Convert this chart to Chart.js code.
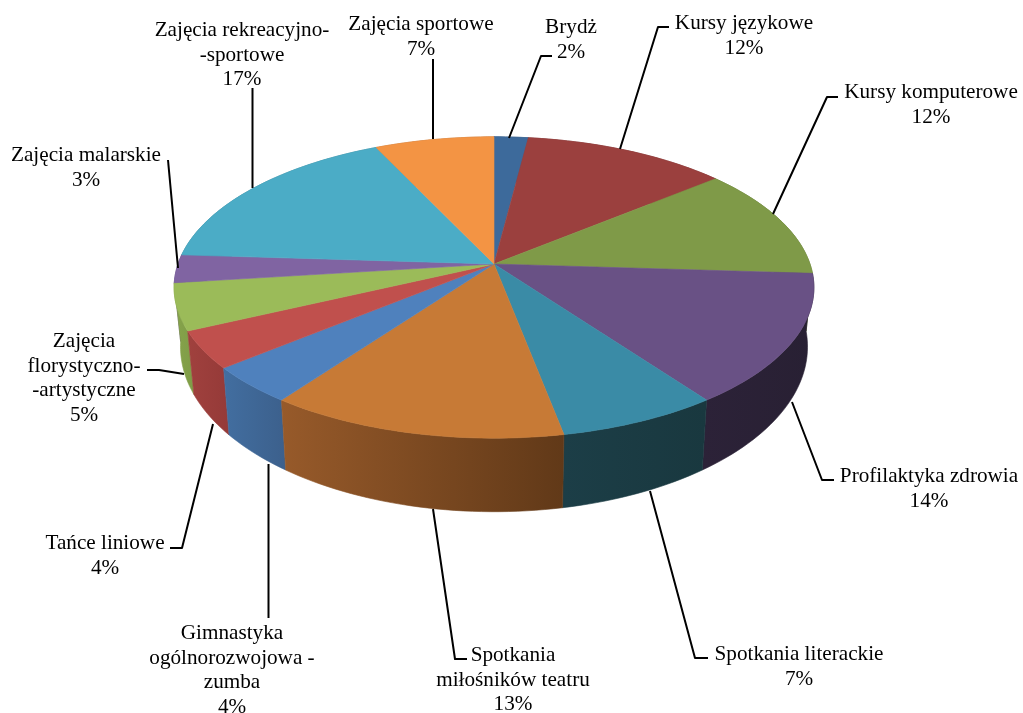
<!DOCTYPE html>
<html lang="pl">
<head>
<meta charset="utf-8">
<title>Zajęcia</title>
<style>
    html, body { margin: 0; padding: 0; background: #fff; }
    canvas { display: block; }
</style>
<script src="https://cdn.jsdelivr.net/npm/chart.js@4/dist/chart.umd.min.js"></script>
</head>
<body>
<canvas id="pieChart" width="1023" height="713"></canvas>
<script>
// one entry per slice, clockwise from twelve o'clock
const categories = [
    ["Brydż"],
    ["Kursy językowe"],
    ["Kursy komputerowe"],
    ["Profilaktyka zdrowia"],
    ["Spotkania literackie"],
    ["Spotkania", "miłośników teatru"],
    ["Gimnastyka", "ogólnorozwojowa -", "zumba"],
    ["Tańce liniowe"],
    ["Zajęcia", "florystyczno-", "-artystyczne"],
    ["Zajęcia malarskie"],
    ["Zajęcia rekreacyjno-", "-sportowe"],
    ["Zajęcia sportowe"]
];
const shares = [2, 12, 12, 14, 7, 13, 4, 4, 5, 3, 17, 7];

const topColors = ["#3d6a9b", "#9b403e", "#7f9a48", "#695185", "#3a8ba6", "#c77a36",
    "#4f81bd", "#c0504d", "#9bbb59", "#8064a2", "#4bacc6", "#f39444"];
// wall colours run left to right across each slice
const wallColors = [
    ["#2f5075", "#2f5075"], ["#753030", "#753030"], ["#607536", "#607536"], ["#2c2238", "#282033"],
    ["#1c3e47", "#19383f"], ["#975a2a", "#613918"], ["#426ea0", "#3c608c"], ["#a0413e", "#953a38"],
    ["#86a44b", "#7f9c47"], ["#61497c", "#61497c"], ["#387f92", "#387f92"], ["#b66f33", "#b66f33"]
];

// label centre x and first baseline y
const labelAnchors = [
    [571, 33], [744, 29], [931, 98], [929, 482], [799, 660], [513, 661],
    [232, 639], [105, 549], [84, 347], [86, 161], [242, 36], [421, 30]
];
const leaderLines = [
    [[509, 138], [541, 56], [552, 56]],
    [[620, 149], [658, 27], [669, 27]],
    [[773, 214], [827, 97], [838, 97]],
    [[792, 402], [822, 480], [834, 480]],
    [[650, 491], [695, 658], [708, 658]],
    [[433, 509], [455, 659], [467, 659]],
    [[268.5, 464], [268.5, 618]],
    [[213, 424], [182, 548], [170, 548]],
    [[184, 374], [159, 370], [147, 370]],
    [[178, 268], [168, 160]],
    [[252.5, 188], [252.5, 88]],
    [[433, 139], [433, 59]]
];

// perspective of the tilted disc
const centerX = 494;
const centerY = 264;
const radiusX = 316;
const radiusY = 147;
const tilt = 0.156;
const LINE_HEIGHT = 24.5;

function topPoint(angle) {
    const v = Math.sin(angle);
    const s = 1 / (1 - tilt * v);
    return [centerX + radiusX * Math.cos(angle) * s, centerY + radiusY * v * s];
}

function bottomPoint(angle) {
    const p = topPoint(angle);
    return [centerX + 0.98 * (p[0] - centerX), centerY + 57 + 1.095 * (p[1] - centerY)];
}

function arcPoints(arc, project) {
    const steps = Math.max(4, Math.ceil((arc.endAngle - arc.startAngle) * 40));
    const points = [];
    for (let i = 0; i <= steps; i++) {
        points.push(project(arc.startAngle + (arc.endAngle - arc.startAngle) * i / steps));
    }
    return points;
}

function tracePath(ctx, points) {
    ctx.beginPath();
    points.forEach((p, i) => i ? ctx.lineTo(p[0], p[1]) : ctx.moveTo(p[0], p[1]));
    ctx.closePath();
}

function paint(ctx, style) {
    ctx.fillStyle = style;
    ctx.strokeStyle = style;
    ctx.lineWidth = 0.6;
    ctx.fill();
    ctx.stroke();
}

// replaces the flat arcs with a 3D disc, using the angles chart.js worked out
const tiltedPie = {
    id: "tiltedPie",
    beforeDatasetsDraw(chart) {
        const ctx = chart.ctx;
        const arcs = chart.getDatasetMeta(0).data;
        const order = arcs.map((arc, i) => i).sort((a, b) =>
            Math.sin((arcs[a].startAngle + arcs[a].endAngle) / 2) -
            Math.sin((arcs[b].startAngle + arcs[b].endAngle) / 2));

        ctx.save();
        order.forEach(i => {
            const upper = arcPoints(arcs[i], topPoint);
            const lower = arcPoints(arcs[i], bottomPoint).reverse();
            const outline = upper.concat(lower);
            const xs = outline.map(p => p[0]);
            const gradient = ctx.createLinearGradient(Math.min(...xs), 0, Math.max(...xs), 0);
            gradient.addColorStop(0, wallColors[i][0]);
            gradient.addColorStop(1, wallColors[i][1]);
            tracePath(ctx, outline);
            paint(ctx, gradient);
        });
        arcs.forEach((arc, i) => {
            tracePath(ctx, [[centerX, centerY]].concat(arcPoints(arc, topPoint)));
            paint(ctx, arc.options.backgroundColor);
        });
        ctx.restore();
        return false;
    },
    afterDraw(chart) {
        const ctx = chart.ctx;
        ctx.save();
        ctx.strokeStyle = "#000";
        ctx.lineWidth = 2;
        ctx.lineJoin = "round";
        leaderLines.forEach(line => {
            ctx.beginPath();
            line.forEach((p, i) => i ? ctx.lineTo(p[0], p[1]) : ctx.moveTo(p[0], p[1]));
            ctx.stroke();
        });
        ctx.fillStyle = "#000";
        ctx.font = '21.2px "Liberation Serif"';
        ctx.textAlign = "center";
        ctx.textBaseline = "alphabetic";
        categories.forEach((lines, i) => {
            const [x, y] = labelAnchors[i];
            lines.concat(shares[i] + "%").forEach((text, row) => {
                ctx.fillText(text, x, y + row * LINE_HEIGHT);
            });
        });
        ctx.restore();
    }
};

new Chart(document.getElementById("pieChart"), {
    type: "pie",
    data: {
        labels: categories,
        datasets: [{ data: shares, backgroundColor: topColors, borderWidth: 0 }]
    },
    options: {
        responsive: false,
        animation: false,
        plugins: {
            legend: { display: false },
            tooltip: { enabled: false }
        }
    },
    plugins: [tiltedPie]
});
</script>
</body>
</html>
